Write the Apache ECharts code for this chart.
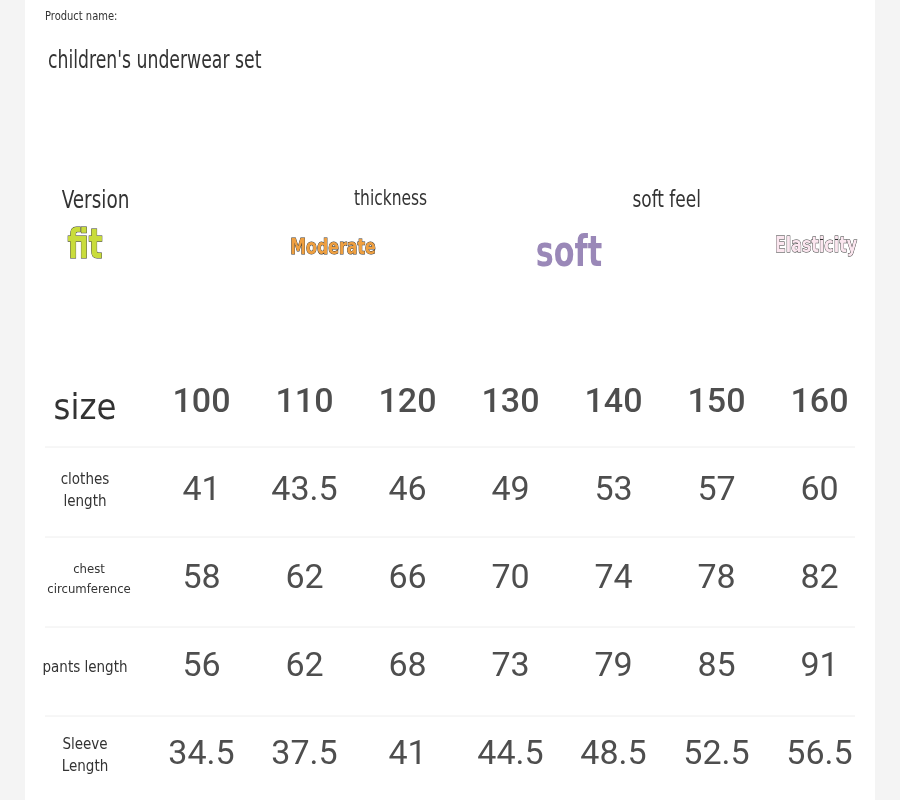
<!DOCTYPE html>
<html>
<head>
<meta charset="utf-8">
<script src="https://cdn.jsdelivr.net/npm/echarts@6/dist/echarts.min.js"></script>
<style>
html,body{margin:0;padding:0;background:#f4f4f4;}
#chart{width:900px;height:800px;}
</style>
</head>
<body>
<div id="chart"></div>
<script>
// 数据
var sizes = ['100', '110', '120', '130', '140', '150', '160'];
var rowNames = ['size', 'clothes\nlength', 'chest\ncircumference', 'pants length', 'Sleeve\nLength'];
var clothesLength = [41, 43.5, 46, 49, 53, 57, 60];
var chestCirc = [58, 62, 66, 70, 74, 78, 82];
var pantsLength = [56, 62, 68, 73, 79, 85, 91];
var sleeveLength = [34.5, 37.5, 41, 44.5, 48.5, 52.5, 56.5];
var featureTitles = ['Version', 'thickness', 'soft feel', 'elasticity'];
var featureValues = ['fit', 'Moderate', 'soft', 'Elasticity'];

var narrow = '"DejaVu Sans Condensed","Liberation Sans Narrow",sans-serif';
var rows = [sizes, clothesLength, chestCirc, pantsLength, sleeveLength];
var cells = [];
for (var r = 0; r < rows.length; r++) {
    for (var c = 0; c < rows[r].length; c++) {
        cells.push({value: [c, r, rows[r][c]], header: r === 0});
    }
}

var chart = echarts.init(document.getElementById('chart'));
var graphics = [
    {type: 'rect', shape: {x: 25, y: 0, width: 850, height: 800}, style: {fill: '#fff'}, z: -10},
    {type: 'text', x: 45, y: 10, scaleX: 0.85, style: {text: 'Product name:', font: '13px ' + narrow, fill: '#333'}},
    {type: 'text', x: 48, y: 50, scaleX: 0.8, style: {text: "children's underwear set", font: '24px ' + narrow, fill: '#333'}}
];
// 特性说明
var fx = [81, 331, 565, 809];
var fty = [201, 200, 201, 198];
var titleSize = [25, 21, 23, 21];
var valStyles = [
    {font: 'bold 40px ' + narrow, fill: '#c9dc3c', stroke: '#333', lineWidth: 1, x: 85, y: 248},
    {font: 'bold 22px ' + narrow, fill: '#f0a040', stroke: '#333', lineWidth: 1, x: 333, y: 248},
    {font: 'bold 42px ' + narrow, fill: '#9a88b8', x: 569, y: 255},
    {font: 'bold 22px ' + narrow, fill: '#fbe6ef', stroke: '#333', lineWidth: 1, x: 816, y: 246}
];
for (var i = 0; i < featureTitles.length; i++) {
    graphics.push({type: 'text', x: fx[i], y: fty[i], scaleX: 0.82, originX: fx[i], style: {text: featureTitles[i], font: titleSize[i] + 'px ' + narrow, fill: '#333', align: 'center', verticalAlign: 'middle'}});
    var s = valStyles[i];
    graphics.push({type: 'text', x: s.x, y: s.y, scaleX: 0.8, style: {text: featureValues[i], font: s.font, fill: s.fill, stroke: s.stroke, lineWidth: s.lineWidth || 0, align: 'center', verticalAlign: 'middle'}});
}
// 分隔线
[447, 537, 627, 716].forEach(function (y) {
    graphics.push({type: 'line', shape: {x1: 45, y1: y, x2: 855, y2: y}, style: {stroke: '#eeeeee', lineWidth: 1}});
});

var option = {
    animation: false,
    graphic: graphics,
    grid: {left: 150, top: 359, width: 721, height: 450},
    xAxis: {
        type: 'category', data: sizes, show: false
    },
    yAxis: {
        type: 'category', data: rowNames, inverse: true,
        axisLine: {show: false}, axisTick: {show: false}, splitLine: {show: false},
        axisLabel: {
            margin: 65, align: 'center', fontFamily: narrow, fontSize: 15, color: '#333', lineHeight: 22,
            formatter: function (v) { return v === 'size' ? '{big|size}' : (v.indexOf('chest') === 0 ? '{sm|' + v.replace('\n', '}\n{sm|') + '}' : v); },
            rich: {
                big: {fontSize: 36, fontFamily: narrow, color: '#333', padding: [14, 0, 0, 0]},
                sm: {fontSize: 13, fontFamily: narrow, color: '#333', lineHeight: 20, padding: [0, 0, 0, 8]}
            }
        }
    },
    series: [{
        type: 'scatter', symbolSize: 0,
        data: cells.map(function (d) {
            return {
                value: d.value,
                label: {
                    show: true, position: 'inside',
                    formatter: function (p) { return String(p.value[2]); },
                    fontFamily: 'Roboto', fontSize: 34, color: '#222',
                    fontWeight: d.header ? 500 : 400
                }
            };
        })
    }]
};
chart.setOption(option);
</script>
</body>
</html>
